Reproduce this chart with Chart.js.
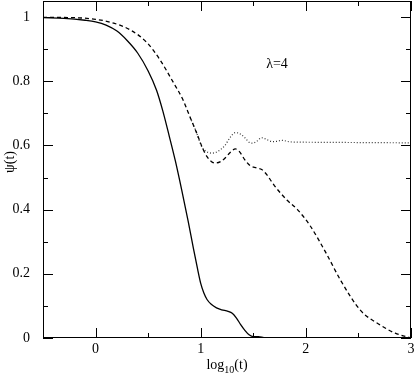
<!DOCTYPE html>
<html>
<head>
<meta charset="utf-8">
<script src="https://cdn.jsdelivr.net/npm/chart.js@4.4.0/dist/chart.umd.min.js"></script>
<style>
  html, body { margin: 0; padding: 0; background: #fff; }
  #wrap { width: 415px; height: 376px; }
</style>
</head>
<body>
<div id="wrap"><canvas id="myChart" width="415" height="376"></canvas></div>
<script>
// values (x = log10(t), y = psi(t))
const solidX = [-0.5, -0.3, -0.1, 0, 0.1, 0.2, 0.3, 0.4, 0.5, 0.58, 0.64, 0.7, 0.76, 0.82, 0.88, 0.93, 0.97, 1.0, 1.03, 1.06, 1.1, 1.15, 1.2, 1.26, 1.3, 1.34, 1.38, 1.42, 1.46, 1.5, 1.55, 1.6, 1.65];
const solidY = [0.998, 0.996, 0.99, 0.985, 0.975, 0.957, 0.927, 0.888, 0.832, 0.772, 0.707, 0.63, 0.55, 0.46, 0.365, 0.28, 0.215, 0.17, 0.14, 0.12, 0.105, 0.094, 0.088, 0.083, 0.077, 0.062, 0.042, 0.024, 0.01, 0.004, 0.004, 0.001, 0];

const dashX = [-0.5, -0.2, 0, 0.14, 0.33, 0.49, 0.61, 0.74, 0.83, 0.9, 0.96, 1.02, 1.06, 1.1, 1.14, 1.19, 1.23, 1.28, 1.33, 1.37, 1.42, 1.47, 1.53, 1.58, 1.63, 1.7, 1.82, 1.92, 2.04, 2.2, 2.33, 2.52, 2.71, 2.85, 3];
const dashY = [0.999, 0.998, 0.993, 0.984, 0.96, 0.92, 0.868, 0.796, 0.743, 0.687, 0.64, 0.59, 0.565, 0.55, 0.545, 0.55, 0.56, 0.578, 0.589, 0.58, 0.555, 0.537, 0.53, 0.525, 0.508, 0.475, 0.43, 0.4, 0.35, 0.26, 0.18, 0.086, 0.04, 0.015, 0];

const dotX = [0.9, 0.96, 1.01, 1.06, 1.11, 1.17, 1.23, 1.28, 1.33, 1.38, 1.42, 1.46, 1.49, 1.53, 1.58, 1.63, 1.68, 1.73, 1.77, 1.85, 2, 2.5, 3];
const dotY = [0.687, 0.64, 0.596, 0.58, 0.576, 0.583, 0.6, 0.625, 0.64, 0.635, 0.624, 0.61, 0.607, 0.612, 0.624, 0.618, 0.612, 0.613, 0.616, 0.611, 0.61, 0.609, 0.608];

const xTicks = [-0.5, 0, 0.5, 1, 1.5, 2, 2.5, 3];
const yTicks = [0, 0.1, 0.2, 0.3, 0.4, 0.5, 0.6, 0.7, 0.8, 0.9, 1];

function pts(xs, ys) {
  return xs.map(function (v, i) { return { x: v, y: ys[i] }; });
}

const serif = "'Liberation Serif', 'DejaVu Serif', serif";

// frame, inward ticks and axis titles
const framePlugin = {
  id: 'frame',
  afterDraw(chart) {
    const ctx = chart.ctx;
    const a = chart.chartArea;
    const xs = chart.scales.x, ys = chart.scales.y;
    ctx.save();
    ctx.strokeStyle = '#000';
    ctx.lineWidth = 1;
    ctx.strokeRect(a.left + 0.5, a.top + 0.5, a.right - a.left - 1, a.bottom - a.top - 1);
    ctx.beginPath();
    xTicks.forEach(function (v) {
      const px = Math.round(xs.getPixelForValue(v)) + 0.5;
      const len = Number.isInteger(v) ? 10 : 5;
      ctx.moveTo(px, a.bottom); ctx.lineTo(px, a.bottom - len);
      ctx.moveTo(px, a.top); ctx.lineTo(px, a.top + len);
    });
    yTicks.forEach(function (v) {
      const py = Math.round(ys.getPixelForValue(v)) + 0.5;
      const len = Math.round(v * 10) % 2 === 0 ? 10 : 5;
      ctx.moveTo(a.left, py); ctx.lineTo(a.left + len, py);
      ctx.moveTo(a.right, py); ctx.lineTo(a.right - len, py);
    });
    ctx.stroke();

    ctx.fillStyle = '#000';
    // x title: log10(t) with subscript
    ctx.font = '14px ' + serif;
    ctx.textBaseline = 'alphabetic';
    ctx.textAlign = 'left';
    const w1 = ctx.measureText('log').width;
    ctx.font = '10px ' + serif;
    const w2 = ctx.measureText('10').width;
    ctx.font = '14px ' + serif;
    const w3 = ctx.measureText('(t)').width;
    let sx = (a.left + a.right) / 2 - (w1 + w2 + w3) / 2;
    ctx.fillText('log', sx, 369);
    ctx.font = '10px ' + serif;
    ctx.fillText('10', sx + w1, 373);
    ctx.font = '14px ' + serif;
    ctx.fillText('(t)', sx + w1 + w2, 369);

    // y title
    ctx.save();
    ctx.translate(10, 162);
    ctx.rotate(-Math.PI / 2);
    ctx.textAlign = 'center';
    ctx.textBaseline = 'middle';
    ctx.fillText('ψ(t)', 0, 0);
    ctx.restore();

    // annotation
    ctx.textAlign = 'center';
    ctx.textBaseline = 'middle';
    ctx.fillText('λ=4', 277, 64);
    ctx.restore();
  }
};

const ctx = document.getElementById('myChart').getContext('2d');
const myChart = new Chart(ctx, {
  type: 'line',
  data: {
    datasets: [
      {
        data: pts(solidX, solidY),
        borderColor: '#000',
        borderWidth: 1.3,
        pointRadius: 0,
        cubicInterpolationMode: 'monotone'
      },
      {
        data: pts(dashX, dashY),
        borderColor: '#000',
        borderWidth: 1.3,
        borderDash: [4, 3],
        pointRadius: 0,
        cubicInterpolationMode: 'monotone'
      },
      {
        data: pts(dotX, dotY),
        borderColor: '#333',
        borderWidth: 1.2,
        borderDash: [1, 2],
        pointRadius: 0,
        cubicInterpolationMode: 'monotone'
      }
    ]
  },
  options: {
    responsive: false,
    animation: false,
    layout: { padding: { left: 0, top: 1, right: 4, bottom: 0 } },
    plugins: {
      legend: { display: false },
      tooltip: { enabled: false }
    },
    scales: {
      x: {
        type: 'linear',
        min: -0.5,
        max: 3,
        grid: { display: false },
        border: { display: false },
        afterBuildTicks: function (s) { s.ticks = xTicks.map(function (v) { return { value: v }; }); },
        afterFit: function (s) { s.height = 38; s.paddingLeft = 0; s.paddingRight = 0; },
        ticks: {
          autoSkip: false,
          maxRotation: 0,
          padding: -5,
          color: '#000',
          font: { family: serif, size: 14 },
          callback: function (v) { return Number.isInteger(v) ? String(v) : ''; }
        }
      },
      y: {
        min: 0,
        max: 1.05,
        grid: { display: false },
        border: { display: false },
        afterBuildTicks: function (s) { s.ticks = yTicks.map(function (v) { return { value: v }; }); },
        afterFit: function (s) { s.width = 43; s.paddingTop = 0; s.paddingBottom = 0; },
        ticks: {
          autoSkip: false,
          padding: 5,
          color: '#000',
          font: { family: serif, size: 14 },
          callback: function (v) {
            const k = Math.round(v * 10);
            return k % 2 === 0 ? String(k / 10) : '';
          }
        }
      }
    }
  },
  plugins: [framePlugin]
});
</script>
</body>
</html>
